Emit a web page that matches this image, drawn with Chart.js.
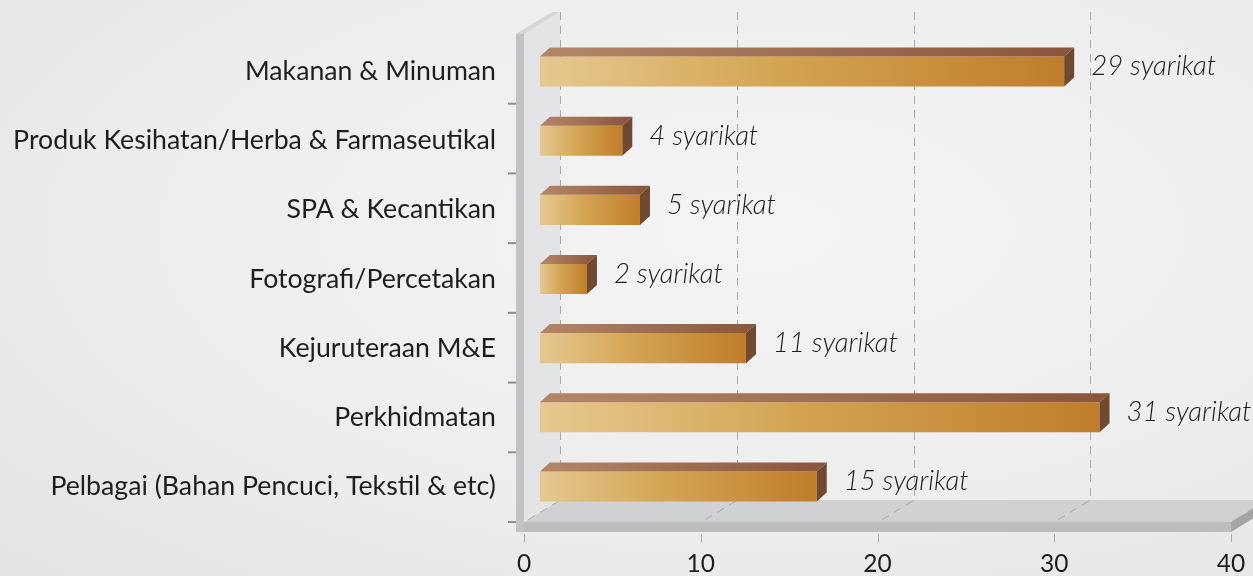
<!DOCTYPE html>
<html>
<head>
<meta charset="utf-8">
<script src="https://cdn.jsdelivr.net/npm/chart.js@4.4.1/dist/chart.umd.min.js"></script>
<style>
  html, body { margin: 0; padding: 0; }
  body {
    width: 1253px; height: 576px; overflow: hidden;
    background: radial-gradient(ellipse at 60% 40%, #f4f4f4 0%, #eeeeee 55%, #e3e3e3 100%);
  }
  #wrap { position: relative; width: 1253px; height: 576px; }
</style>
</head>
<body>
<div id="wrap"><canvas id="c" width="1253" height="576"></canvas></div>
<script>
const categories = [
  "Makanan & Minuman",
  "Produk Kesihatan/Herba & Farmaseutikal",
  "SPA & Kecantikan",
  "Fotografi/Percetakan",
  "Kejuruteraan M&E",
  "Perkhidmatan",
  "Pelbagai (Bahan Pencuci, Tekstil & etc)"
];
const companyCounts = [29, 4, 5, 2, 11, 31, 15];
const valueSuffix = " syarikat";
const axisMin = 0, axisMax = 40, axisStep = 10;

// 3D geometry (pixels)
const WALL_DEPTH = { dx: 36, dy: -22 };
const BAR_DEPTH = { dx: 10, dy: -9 };
const BAR_SHIFT = 27.6;   // bars sit deeper than the front plane
const FLOOR_THICK = 10;
const WALL_THICK = 8;

const CAT_FONT = "Lato, 'Open Sans', sans-serif";

const frame3d = {
  id: 'frame3d',
  beforeDatasetsDraw(chart) {
    const ctx = chart.ctx;
    const xs = chart.scales.x;
    const ys = chart.scales.y;
    const top = ys.top - 3, bottom = ys.bottom + 1;
    const x0 = xs.left, x1 = xs.right;
    const D = WALL_DEPTH;
    ctx.save();
    // floor top
    ctx.fillStyle = '#d0d1d3';
    ctx.beginPath();
    ctx.moveTo(x0, bottom); ctx.lineTo(x0 + D.dx, bottom + D.dy);
    ctx.lineTo(x1 + D.dx, bottom + D.dy); ctx.lineTo(x1, bottom);
    ctx.closePath(); ctx.fill();
    // floor front edge
    ctx.fillStyle = '#bbbcbe';
    ctx.fillRect(x0 - WALL_THICK, bottom, x1 - x0 + WALL_THICK, FLOOR_THICK);
    // floor right side
    ctx.fillStyle = '#a3a4a6';
    ctx.beginPath();
    ctx.moveTo(x1, bottom); ctx.lineTo(x1 + D.dx, bottom + D.dy);
    ctx.lineTo(x1 + D.dx, bottom + D.dy + FLOOR_THICK); ctx.lineTo(x1, bottom + FLOOR_THICK);
    ctx.closePath(); ctx.fill();
    // wall inner face
    ctx.fillStyle = '#e3e4e6';
    ctx.beginPath();
    ctx.moveTo(x0, top); ctx.lineTo(x0 + D.dx, top + D.dy);
    ctx.lineTo(x0 + D.dx, bottom + D.dy); ctx.lineTo(x0, bottom);
    ctx.closePath(); ctx.fill();
    // wall top
    ctx.fillStyle = '#d6d7d9';
    ctx.beginPath();
    ctx.moveTo(x0 - WALL_THICK, top); ctx.lineTo(x0, top);
    ctx.lineTo(x0 + D.dx, top + D.dy); ctx.lineTo(x0 + D.dx - WALL_THICK, top + D.dy);
    ctx.closePath(); ctx.fill();
    // wall front edge
    ctx.fillStyle = '#c2c3c5';
    ctx.fillRect(x0 - WALL_THICK, top, WALL_THICK, bottom - top + FLOOR_THICK);

    // dashed gridlines (back plane + floor)
    ctx.strokeStyle = '#a9a9ab';
    ctx.lineWidth = 1;
    ctx.setLineDash([8, 6]);
    for (let v = axisMin; v <= axisMax; v += axisStep) {
      const px = Math.round(xs.getPixelForValue(v)) + 0.5;
      ctx.beginPath();
      ctx.moveTo(px + D.dx, top + D.dy);
      ctx.lineTo(px + D.dx, bottom + D.dy);
      ctx.lineTo(px, bottom);
      ctx.stroke();
      ctx.beginPath();
      ctx.moveTo(px, bottom + FLOOR_THICK + 2);
      ctx.lineTo(px, bottom + FLOOR_THICK + 14);
      ctx.stroke();
    }
    ctx.setLineDash([]);
    // left category tick marks
    ctx.strokeStyle = '#8e8e90';
    ctx.lineWidth = 2;
    for (let k = 1; k <= categories.length; k++) {
      const py = top + k * ((bottom - top) / categories.length);
      ctx.beginPath();
      ctx.moveTo(x0 - WALL_THICK - 8, py);
      ctx.lineTo(x0 - WALL_THICK, py);
      ctx.stroke();
    }
    ctx.restore();
  },
  afterDatasetsDraw(chart) {
    const ctx = chart.ctx;
    const meta = chart.getDatasetMeta(0);
    const B = BAR_DEPTH;
    ctx.save();
    meta.data.forEach((el, i) => {
      const p = el.getProps(['x', 'y', 'base', 'height'], true);
      const left = p.base, right = p.x;
      const t = p.y - p.height / 2, b = p.y + p.height / 2;
      // top face
      const gTop = ctx.createLinearGradient(left, 0, right + B.dx, 0);
      gTop.addColorStop(0, '#b48668');
      gTop.addColorStop(1, '#8a553a');
      ctx.fillStyle = gTop;
      ctx.beginPath();
      ctx.moveTo(left, t); ctx.lineTo(left + B.dx, t + B.dy);
      ctx.lineTo(right + B.dx, t + B.dy); ctx.lineTo(right, t);
      ctx.closePath(); ctx.fill();
      // side face
      ctx.fillStyle = '#6f4a2e';
      ctx.beginPath();
      ctx.moveTo(right, t); ctx.lineTo(right + B.dx, t + B.dy);
      ctx.lineTo(right + B.dx, b + B.dy); ctx.lineTo(right, b);
      ctx.closePath(); ctx.fill();
      // value label
      ctx.fillStyle = '#1c1c1c';
      ctx.font = "italic 300 27.5px " + CAT_FONT;
      ctx.textAlign = 'left';
      ctx.textBaseline = 'middle';
      ctx.fillText(companyCounts[i] + valueSuffix, right + B.dx + 17, p.y - 5);
    });
    ctx.restore();
  }
};

const ctx = document.getElementById('c').getContext('2d');
new Chart(ctx, {
  type: 'bar',
  data: {
    labels: categories,
    datasets: [{
      data: companyCounts,
      xAxisID: 'xb',
      base: -0.66,
      barPercentage: 0.87,
      categoryPercentage: 0.5,
      borderWidth: 0,
      backgroundColor: (c) => {
        const chart = c.chart;
        const sc = chart.scales.xb;
        if (!sc || c.raw === undefined) return '#d3a24e';
        const l = sc.getPixelForValue(-0.66);
        const r = sc.getPixelForValue(c.raw);
        if (!isFinite(l) || !isFinite(r) || r <= l) return '#d3a24e';
        const g = chart.ctx.createLinearGradient(l, 0, r, 0);
        g.addColorStop(0, '#e6c991');
        g.addColorStop(0.45, '#d3a553');
        g.addColorStop(1, '#c07d2b');
        return g;
      }
    }]
  },
  options: {
    indexAxis: 'y',
    responsive: false,
    animation: false,
    events: [],
    layout: { padding: { top: 37, right: 22, bottom: 0, left: 0 } },
    plugins: { legend: { display: false }, tooltip: { enabled: false } },
    scales: {
      y: {
        type: 'category',
        position: 'left',
        grid: { display: false, drawTicks: true, tickLength: 28 },
        border: { display: false },
        ticks: { color: '#1e1e1e', font: { family: CAT_FONT, size: 26.7 }, padding: 0 },
        afterFit: (s) => { s.width = 524; }
      },
      x: {
        type: 'linear',
        position: 'bottom',
        min: axisMin, max: axisMax,
        grid: { display: false, drawTicks: true, tickLength: 28 },
        border: { display: false },
        ticks: { stepSize: axisStep, color: '#1e1e1e', font: { family: CAT_FONT, size: 24.5 }, padding: 0, maxRotation: 0 },
        afterFit: (s) => { s.height = 55; }
      },
      xb: {
        type: 'linear',
        display: false,
        position: 'bottom',
        min: axisMin - BAR_SHIFT / 17.675,
        max: axisMax - BAR_SHIFT / 17.675
      }
    }
  },
  plugins: [frame3d]
});
</script>
</body>
</html>
